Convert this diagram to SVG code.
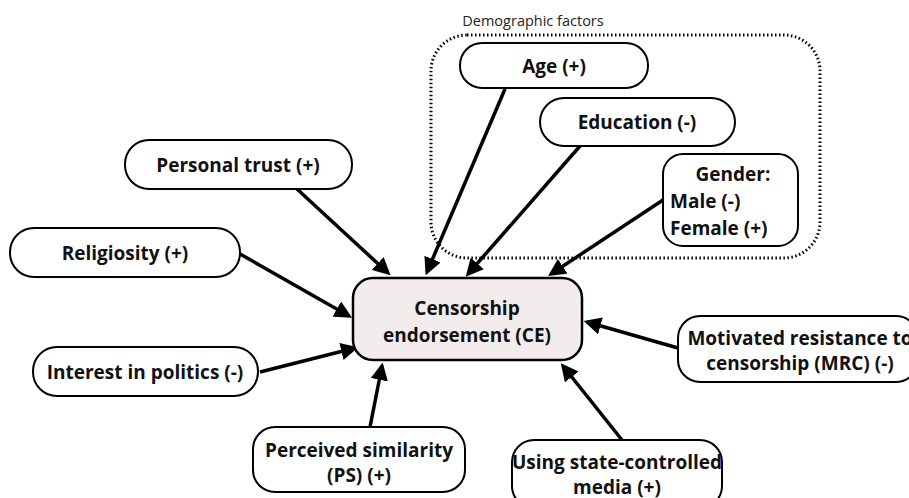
<svg xmlns="http://www.w3.org/2000/svg" width="909" height="498" viewBox="0 0 909 498">
<defs>
<marker id="ah" markerWidth="5" markerHeight="5" refX="4" refY="2.5" orient="auto" markerUnits="strokeWidth">
<path d="M0,0 L5,2.5 L0,5 Z" fill="#000"/>
</marker>
<style>
.n{fill:#fff;stroke:#000;stroke-width:2}
.t{font-family:"Open Sans","DejaVu Sans",sans-serif;font-weight:bold;font-size:19px;fill:#111;text-anchor:middle}
.s{text-anchor:start}
.c line{stroke:#000;stroke-width:3.5;marker-end:url(#ah)}
</style>
</defs>
<rect width="909" height="498" fill="#fff"/>
<g id="demographic">
<rect x="431" y="35" width="389" height="223" rx="36" fill="none" stroke="#000" stroke-width="3" stroke-dasharray="1.5 2.5"/>
<text x="533" y="26" font-family="Open Sans, DejaVu Sans, sans-serif" font-size="14.5" fill="#222" text-anchor="middle">Demographic factors</text>
</g>
<g class="c" id="connectors">
<line x1="505" y1="89" x2="427" y2="272"/>
<line x1="580" y1="146" x2="468" y2="274"/>
<line x1="663" y1="200" x2="551" y2="274"/>
<line x1="297" y1="189" x2="388" y2="273"/>
<line x1="240" y1="254" x2="349" y2="316"/>
<line x1="260" y1="372" x2="355" y2="348"/>
<line x1="370" y1="427" x2="382" y2="366"/>
<line x1="622" y1="440" x2="563" y2="366"/>
<line x1="678" y1="348" x2="587" y2="322"/>
</g>
<g id="age"><rect class="n" x="460" y="43" width="188" height="45" rx="22"/><text class="t" x="554" y="73">Age (+)</text></g>
<g id="education"><rect class="n" x="540" y="98" width="195" height="48" rx="24"/><text class="t" x="637" y="129">Education (-)</text></g>
<g id="gender"><rect class="n" x="663" y="154" width="135" height="92" rx="20"/><text class="t" x="733" y="181">Gender:</text><text class="t s" x="670" y="208">Male (-)</text><text class="t s" x="670" y="235">Female (+)</text></g>
<g id="trust"><rect class="n" x="125" y="140" width="227" height="49" rx="24"/><text class="t" x="238" y="172">Personal trust (+)</text></g>
<g id="religiosity"><rect class="n" x="10" y="228" width="230" height="49" rx="24"/><text class="t" x="125" y="260">Religiosity (+)</text></g>
<g id="interest"><rect class="n" x="33" y="347" width="225" height="49" rx="24"/><text class="t" x="145" y="379">Interest in politics (-)</text></g>
<g id="ce"><rect x="353" y="278" width="229" height="82" rx="20" fill="#f3eced" stroke="#000" stroke-width="2.5"/><text class="t" x="467" y="315">Censorship</text><text class="t" x="467" y="342">endorsement (CE)</text></g>
<g id="ps"><rect class="n" x="253" y="427" width="212" height="65" rx="22"/><text class="t" x="359" y="457">Perceived similarity</text><text class="t" x="359" y="482">(PS) (+)</text></g>
<g id="media"><rect class="n" x="512" y="440" width="210" height="68" rx="22"/><text class="t" x="617" y="469">Using state-controlled</text><text class="t" x="617" y="494">media (+)</text></g>
<g id="mrc"><rect class="n" x="678" y="316" width="240" height="66" rx="22"/><text class="t" x="800" y="345">Motivated resistance to</text><text class="t" x="800" y="370">censorship (MRC) (-)</text></g>
</svg>
